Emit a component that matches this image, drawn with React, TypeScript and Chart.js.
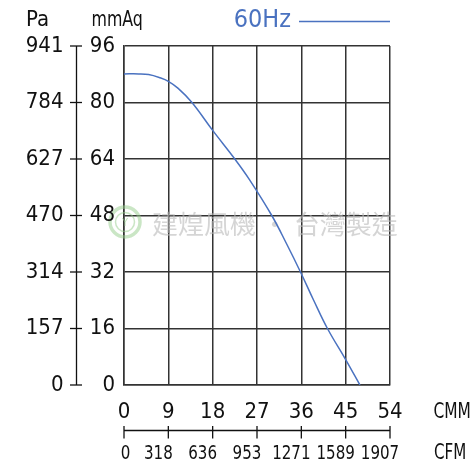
import React, { useEffect, useRef } from "react";
import { Chart, registerables } from "chart.js";

Chart.register(...registerables);

// ---- data ----
const cmmValues = [0, 3, 5, 7.3, 9, 11, 13.8, 18, 22.5, 25.5, 30, 33, 35.9, 38.5, 41.3, 45, 47.9];
const mmAqValues = [88.1, 88.1, 87.9, 87.0, 86.0, 84.0, 80.0, 72.1, 64.0, 58.1, 48.0, 40.0, 31.8, 24.0, 16.0, 7.2, 0];
const cmmTicks = [0, 9, 18, 27, 36, 45, 54];
const cfmLabels = ["0", "318", "636", "953", "1271", "1589", "1907"];
const mmAqTicks = [0, 16, 32, 48, 64, 80, 96];
const paLabels = ["0", "157", "314", "470", "627", "784", "941"];
const seriesName = "60Hz";
const watermarkText = "建煌風機 · 台灣製造";

const FONT = '"DejaVu Sans Condensed", "DejaVu Sans", sans-serif';
const BLUE = "#4a72c0";
const GRID = "#333333";

function text(ctx: any, s: string, x: number, y: number, align: string, sx: number) {
  ctx.save();
  ctx.translate(x, y);
  ctx.scale(sx, 1);
  ctx.textAlign = align;
  ctx.fillText(s, 0, 0);
  ctx.restore();
}

const decorPlugin = {
  id: "decor",
  beforeDatasetsDraw(chart: any) {
    const ctx = chart.ctx;
    const a = chart.chartArea;
    ctx.save();
    // watermark logo
    const cx = a.left + 1;
    const cy = a.top + 176;
    ctx.strokeStyle = "rgba(150,205,140,0.5)";
    ctx.lineWidth = 3.5;
    ctx.beginPath();
    ctx.arc(cx, cy, 15, 0, Math.PI * 2);
    ctx.stroke();
    ctx.lineWidth = 1.5;
    ctx.beginPath();
    ctx.arc(cx, cy, 9.5, 0, Math.PI * 2);
    ctx.stroke();
    ctx.fillStyle = "rgba(150,205,140,0.6)";
    ctx.font = `11px ${FONT}`;
    ctx.textAlign = "center";
    ctx.textBaseline = "middle";
    ctx.fillText("Y", cx, cy + 1);
    // watermark text
    ctx.fillStyle = "rgba(185,185,185,0.6)";
    ctx.font = `26px "Noto Sans CJK TC", "Noto Sans CJK SC", sans-serif`;
    ctx.textAlign = "left";
    ctx.fillText(watermarkText, a.left + 28, cy + 2);
    ctx.restore();
  },
  afterDraw(chart: any) {
    const ctx = chart.ctx;
    const a = chart.chartArea;
    const xs = chart.scales.x;
    const ys = chart.scales.y;
    ctx.save();
    ctx.fillStyle = "#111";
    ctx.strokeStyle = "#111";
    ctx.textBaseline = "middle";

    // Pa axis
    const paX = a.left - 47.5;
    ctx.lineWidth = 1.3;
    ctx.beginPath();
    ctx.moveTo(paX, ys.getPixelForValue(96));
    ctx.lineTo(paX, ys.getPixelForValue(0));
    ctx.stroke();
    ctx.font = `22px ${FONT}`;
    mmAqTicks.forEach((v, i) => {
      const y = ys.getPixelForValue(v);
      ctx.beginPath();
      ctx.moveTo(paX - 6.5, y);
      ctx.lineTo(paX + 5.5, y);
      ctx.stroke();
      text(ctx, paLabels[i], paX - 13, y, "right", 1);
      text(ctx, String(v), a.left - 9, y, "right", 1);
    });

    // titles
    ctx.textBaseline = "alphabetic";
    ctx.font = `22px ${FONT}`;
    text(ctx, "Pa", a.left - 98, a.top - 20, "left", 1);
    text(ctx, "mmAq", a.left - 32.5, a.top - 20, "left", 0.8);

    // CMM labels
    ctx.textBaseline = "middle";
    cmmTicks.forEach((v) => {
      text(ctx, String(v), xs.getPixelForValue(v), a.bottom + 27, "center", 1);
    });
    text(ctx, "CMM", a.right + 43.5, a.bottom + 27, "left", 0.78);

    // CFM axis
    const cfmY = a.bottom + 45.5;
    ctx.lineWidth = 1.3;
    ctx.beginPath();
    ctx.moveTo(xs.getPixelForValue(0), cfmY);
    ctx.lineTo(xs.getPixelForValue(54), cfmY);
    ctx.stroke();
    ctx.font = `19.5px ${FONT}`;
    cmmTicks.forEach((v, i) => {
      const x = xs.getPixelForValue(v);
      ctx.beginPath();
      ctx.moveTo(x, cfmY - 4.5);
      ctx.lineTo(x, cfmY + 8);
      ctx.stroke();
      text(ctx, cfmLabels[i], i === 0 ? x + 1.5 : x - 10, a.bottom + 69, "center", 0.86);
    });
    ctx.font = `21px ${FONT}`;
    text(ctx, "CFM", a.right + 44, a.bottom + 69, "left", 0.8);

    // legend
    ctx.fillStyle = BLUE;
    ctx.strokeStyle = BLUE;
    ctx.font = `24px ${FONT}`;
    text(ctx, seriesName, a.right - 99, a.top - 25, "right", 1.04);
    ctx.lineWidth = 1.3;
    ctx.beginPath();
    ctx.moveTo(a.right - 91, a.top - 24.5);
    ctx.lineTo(a.right, a.top - 24.5);
    ctx.stroke();
    ctx.restore();
  },
};

export default function App() {
  const ref = useRef<HTMLCanvasElement>(null);
  useEffect(() => {
    if (!ref.current) return;
    const chart = new Chart(ref.current, {
      type: "line",
      data: {
        datasets: [
          {
            label: seriesName,
            data: cmmValues.map((x, i) => ({ x, y: mmAqValues[i] })),
            borderColor: BLUE,
            borderWidth: 1.5,
            pointRadius: 0,
            tension: 0.4,
            fill: false,
          },
        ],
      },
      options: {
        responsive: false,
        animation: false,
        layout: { padding: { left: 124, top: 46, right: 86, bottom: 79 } },
        plugins: { legend: { display: false }, tooltip: { enabled: false } },
        scales: {
          x: {
            type: "linear",
            min: 0,
            max: 54,
            ticks: { display: false, stepSize: 9 },
            grid: { color: GRID, lineWidth: 1.5, drawTicks: false },
            border: { color: GRID, width: 1.5 },
          },
          y: {
            type: "linear",
            min: 0,
            max: 96,
            ticks: { display: false, stepSize: 16 },
            grid: { color: GRID, lineWidth: 1.5, drawTicks: false },
            border: { color: GRID, width: 1.5 },
          },
        },
      },
      plugins: [decorPlugin],
    } as any);
    return () => chart.destroy();
  }, []);
  return (
    <div style={{ position: "fixed", left: 0, top: 0, width: 476, height: 464, background: "#fff" }}>
      <canvas ref={ref} width={476} height={464} />
    </div>
  );
}
